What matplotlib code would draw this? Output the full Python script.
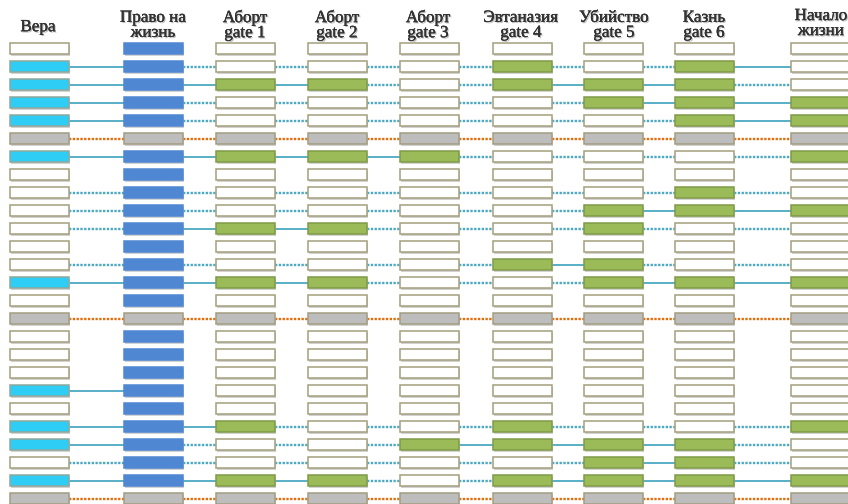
import matplotlib.pyplot as plt
from matplotlib.patches import Rectangle
import matplotlib.patheffects as pe

# Заголовки столбцов
headers = ["Вера", "Право на\nжизнь", "Аборт\ngate 1", "Аборт\ngate 2", "Аборт\ngate 3",
           "Эвтаназия\ngate 4", "Убийство\ngate 5", "Казнь\ngate 6", "Начало\nжизни"]

# Состояние ячеек по строкам: w - пусто, c - голубой, b - синий, g - зелёный, x - серый
vera     = "wccccxcwwwwwwcwxwwwcwccwcx"
pravo    = "bbbbbxbbbbbbbbbxbbbbbbbbbx"
abort1   = "wwgwwxgwwwgwwgwxwwwwwgwwgx"
abort2   = "wwgwwxgwwwgwwgwxwwwwwwwwgx"
abort3   = "wwwwwxgwwwwwwwwxwwwwwwgwwx"
evtan4   = "wggwwxwwwwwwgwwxwwwwwggwgx"
ubiystvo = "wwggwxwwwggwggwxwwwwwwgggx"
kazn     = "wggggxwwggwwwgwxwwwwwwgggx"
nachalo  = "wwwggxgwwgwwwgwxwwwwwgwwgx"
cells = [vera, pravo, abort1, abort2, abort3, evtan4, ubiystvo, kazn, nachalo]

# Связи между соседними столбцами: s - сплошная, d - пунктир, o - оранжевый пунктир, ' ' - нет
links = [
    "        ",
    "sdddddds",
    "sssddssd",
    "sdddddss",
    "sdddddds",
    "oooooooo",
    "ssssdddd",
    "        ",
    "dddddddd",
    "ddddddss",
    "dssddddd",
    "        ",
    "dddddsdd",
    "sssdddss",
    "        ",
    "oooooooo",
    "        ",
    "        ",
    "        ",
    "s       ",
    "        ",
    "ssdddddd",
    "sdddsssd",
    "ddddddsd",
    "sssddsss",
    "oooooooo",
]

# Разметка (в пикселях по x, в строках по y)
col_left = [10, 124, 216, 308, 400, 493, 584, 675, 791]
box_w = 59
box_h = 0.62
head_x = [38, 153, 245, 337, 428, 521, 614, 704, 821]
head_y = [-1.2, -1.3, -1.3, -1.3, -1.3, -1.3, -1.3, -1.3, -1.4]

fill = {'w': 'white', 'c': '#2ECDF6', 'b': '#4F87D3', 'g': '#9BBB59', 'x': '#BDBDBD'}
edge = {'w': '#A39F7C', 'c': '#8FA89A', 'b': '#4F87D3', 'g': '#7F9B48', 'x': '#A29D80'}
teal = '#4BA9C4'
orange = '#E46C0A'

fig = plt.figure(figsize=(8.48, 5.04), dpi=100)
ax = fig.add_axes([0, 0, 1, 1])
ax.set_xlim(0, 848)
ax.set_ylim(25.29, -2.71)
ax.axis('off')

# Линии связей
for r, row in enumerate(links):
    for g, st in enumerate(row):
        if st == ' ':
            continue
        x0 = col_left[g] + box_w
        x1 = col_left[g + 1]
        if st == 's':
            ax.plot([x0, x1], [r, r], color=teal, lw=1.3, solid_capstyle='butt', zorder=1)
        elif st == 'd':
            ax.plot([x0, x1], [r, r], color=teal, lw=1.7, linestyle=(0, (1, 0.6)), zorder=1)
        else:
            ax.plot([x0, x1], [r, r], color=orange, lw=1.7, linestyle=(0, (1, 0.6)), zorder=1)

# Прямоугольники
for c, col in enumerate(cells):
    for r, st in enumerate(col):
        x = col_left[c]
        y = r - box_h / 2
        ax.add_patch(Rectangle((x + 1.2, y + 0.09), box_w, box_h, facecolor='#C0C0C0',
                               edgecolor='none', alpha=0.7, zorder=2))
        ax.add_patch(Rectangle((x, y), box_w, box_h, facecolor=fill[st],
                               edgecolor=edge[st], lw=1.1, zorder=3))

# Заголовки
for x, y, h in zip(head_x, head_y, headers):
    ax.text(x, y, h, ha='center', va='center', fontsize=12.3, family='Liberation Serif',
            color='#333333', linespacing=0.92,
            path_effects=[pe.withSimplePatchShadow(offset=(0.9, -0.9), shadow_rgbFace='#888888', alpha=0.6),
                          pe.withStroke(linewidth=0.15, foreground='#333333')])

fig.savefig('out.png', dpi=100)
